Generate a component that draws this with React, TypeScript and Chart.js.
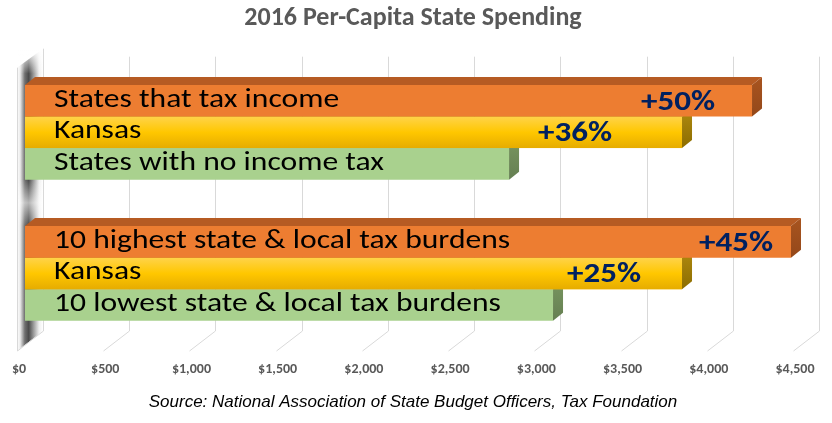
import React, { useEffect, useRef } from 'react';
import { Chart, registerables } from 'chart.js';

Chart.register(...registerables);

// ---- data ----
const groups = ['Income tax', 'Tax burden'];
const highValues = [4216, 4442];
const kansasValues = [3810, 3810];
const lowValues = [2807, 3062];
const highNames = ['States that tax income', '10 highest state & local tax burdens'];
const kansasNames = ['Kansas', 'Kansas'];
const lowNames = ['States with no income tax', '10 lowest state & local tax burdens'];
const highPct = ['+50%', '+45%'];
const kansasPct = ['+36%', '+25%'];
const lowPct = ['', ''];
const xMin = 0;
const xMax = 4500;
const xStep = 500;
const titleText = '2016 Per-Capita State Spending';
const sourceText = 'Source: National Association of State Budget Officers, Tax Foundation';

const FONT = 'Carlito, Calibri, Lato, "Open Sans", sans-serif';
const TICK_SIZE = 14;
const TICK_PAD = 17;

const bar3d = {
  id: 'bar3d',
  beforeDatasetsDraw(chart: any) {
    const { ctx, chartArea: ca, scales } = chart;
    const x = scales.x;
    const o = chart.options.plugins.bar3d;
    ctx.save();
    // left wall
    const x0 = x.getPixelForValue(xMin);
    const fx = x0 + o.frontDx;
    const bx = x0 + o.backDx;
    ctx.beginPath();
    ctx.moveTo(fx, ca.top + o.wallFrontTop);
    ctx.lineTo(bx, ca.top + o.wallBackTop);
    ctx.lineTo(bx, ca.bottom + o.wallBottom);
    ctx.lineTo(fx, ca.bottom + o.floorFront);
    ctx.closePath();
    const g = ctx.createLinearGradient(fx, 0, bx, 0);
    g.addColorStop(0, '#ffffff');
    g.addColorStop(0.12, '#ececec');
    g.addColorStop(0.3, '#707070');
    g.addColorStop(0.45, '#4a4a4a');
    g.addColorStop(0.65, '#a0a0a0');
    g.addColorStop(0.85, '#f0f0f0');
    g.addColorStop(1, '#ffffff');
    ctx.fillStyle = g;
    ctx.fill();
    // fade top of wall
    const fade = ctx.createLinearGradient(0, ca.top + o.wallBackTop, 0, ca.top + o.wallFrontTop + 6);
    fade.addColorStop(0, 'rgba(255,255,255,1)');
    fade.addColorStop(1, 'rgba(255,255,255,0)');
    ctx.fillStyle = fade;
    ctx.fillRect(fx, ca.top + o.wallBackTop - 2, bx - fx, o.wallFrontTop - o.wallBackTop + 8);
    // lighter reflection in the middle of the gaps between groups
    const first = chart.getDatasetMeta(0).data;
    const last = chart.getDatasetMeta(chart.data.datasets.length - 1).data;
    for (let i = 0; i < first.length - 1; i++) {
      const gapTop = last[i].y + last[i].height / 2;
      const gapBot = first[i + 1].y - first[i + 1].height / 2;
      const lg = ctx.createLinearGradient(0, gapTop, 0, gapBot);
      lg.addColorStop(0, 'rgba(255,255,255,0)');
      lg.addColorStop(0.5, 'rgba(255,255,255,0.6)');
      lg.addColorStop(1, 'rgba(255,255,255,0)');
      ctx.fillStyle = lg;
      ctx.fillRect(fx, gapTop, bx - fx, gapBot - gapTop);
    }
    // wall edge line
    ctx.strokeStyle = '#D9D9D9';
    ctx.lineWidth = 1;
    ctx.beginPath();
    ctx.moveTo(Math.round(fx) + 0.5, ca.top + o.wallFrontTop);
    ctx.lineTo(Math.round(fx) + 0.5, ca.bottom + o.floorFront);
    ctx.stroke();
    // back wall grid + floor lines
    x.ticks.forEach((t: any) => {
      const px = Math.round(x.getPixelForValue(t.value)) + 0.5;
      ctx.beginPath();
      ctx.moveTo(px + o.backDx, ca.top + (t.value === xMin ? o.wallBackTop : o.gridTop));
      ctx.lineTo(px + o.backDx, ca.bottom + o.wallBottom);
      ctx.lineTo(px + o.frontDx, ca.bottom + o.floorFront);
      ctx.stroke();
    });
    ctx.restore();
  },
  afterDatasetDraw(chart: any, args: any) {
    const { ctx } = chart;
    const o = chart.options.plugins.bar3d;
    const ds = chart.data.datasets[args.index];
    const dx = o.depthX;
    const dy = o.depthY;
    ctx.save();
    args.meta.data.forEach((el: any, i: number) => {
      const p = el.getProps(['x', 'y', 'base', 'height'], true);
      const top = p.y - p.height / 2;
      const bot = p.y + p.height / 2;
      const x0 = p.base;
      const x1 = p.x;
      if (ds.gradientStops) {
        const g = ctx.createLinearGradient(0, top, 0, bot);
        ds.gradientStops.forEach((s: [number, string]) => g.addColorStop(s[0], s[1]));
        ctx.fillStyle = g;
        ctx.fillRect(x0, top, x1 - x0, bot - top);
      }
      // right face
      const sg = ctx.createLinearGradient(0, top - dy, 0, bot);
      sg.addColorStop(0, ds.sideColors[0]);
      sg.addColorStop(1, ds.sideColors[1]);
      ctx.fillStyle = sg;
      ctx.beginPath();
      ctx.moveTo(x1, top);
      ctx.lineTo(x1 + dx, top - dy);
      ctx.lineTo(x1 + dx, bot - dy);
      ctx.lineTo(x1, bot);
      ctx.closePath();
      ctx.fill();
      // top face
      ctx.fillStyle = ds.topColor;
      ctx.beginPath();
      ctx.moveTo(x0, top);
      ctx.lineTo(x0 + dx, top - dy);
      ctx.lineTo(x1 + dx, top - dy);
      ctx.lineTo(x1, top);
      ctx.closePath();
      ctx.fill();
      // category text
      ctx.save();
      ctx.fillStyle = '#000000';
      ctx.font = `${o.nameSize}px ${FONT}`;
      ctx.textAlign = 'left';
      ctx.textBaseline = 'alphabetic';
      ctx.translate(x0 + o.namePad, p.y + o.nameBaseline);
      ctx.scale(o.textStretch, 1);
      ctx.fillText(ds.names[i], 0, 0);
      ctx.restore();
      // percentage text
      if (ds.pct[i]) {
        ctx.save();
        ctx.font = `bold ${o.pctSize}px ${FONT}`;
        ctx.fillStyle = '#002060';
        ctx.textAlign = 'right';
        ctx.textBaseline = 'alphabetic';
        ctx.translate(x1 - ds.pctInset[i], p.y + o.pctBaseline);
        ctx.scale(o.pctStretch, 1);
        ctx.fillText(ds.pct[i], 0, 0);
        ctx.restore();
      }
    });
    ctx.restore();
  },
};

export default function App() {
  const ref = useRef<HTMLCanvasElement>(null);
  useEffect(() => {
    if (!ref.current) return;
    const chart = new Chart(ref.current, {
      type: 'bar',
      data: {
        labels: groups,
        datasets: [
          {
            label: 'High',
            data: highValues,
            backgroundColor: '#ED7D31',
            names: highNames,
            pct: highPct,
            pctInset: [37, 18],
            topColor: '#B65B23',
            sideColors: ['#A8541F', '#94481A'],
          },
          {
            label: 'Kansas',
            data: kansasValues,
            backgroundColor: '#FFC000',
            gradientStops: [
              [0, '#FFD34A'],
              [0.5, '#FFC700'],
              [1, '#E6AC00'],
            ],
            names: kansasNames,
            pct: kansasPct,
            pctInset: [70, 41],
            topColor: '#BF9000',
            sideColors: ['#B08A10', '#8C6D00'],
          },
          {
            label: 'Low',
            data: lowValues,
            backgroundColor: '#A9D18E',
            names: lowNames,
            pct: lowPct,
            pctInset: [0, 0],
            topColor: '#7F9D6B',
            sideColors: ['#78955F', '#657F52'],
          },
        ] as any,
      },
      options: {
        indexAxis: 'y',
        responsive: false,
        animation: false,
        devicePixelRatio: 1,
        layout: { padding: { left: 25, right: 31, top: 0, bottom: 0 } },
        datasets: { bar: { barPercentage: 1, categoryPercentage: 0.671, borderWidth: 0 } },
        scales: {
          x: {
            min: xMin,
            max: xMax,
            grid: { display: false, drawTicks: false },
            border: { display: false },
            afterFit: (scale: any) => {
              scale.height = TICK_PAD + TICK_SIZE * 1.2;
              scale.paddingLeft = 0;
              scale.paddingRight = 0;
            },
            ticks: {
              stepSize: xStep,
              padding: TICK_PAD,
              labelOffset: -6,
              maxRotation: 0,
              minRotation: 0,
              autoSkip: false,
              color: '#595959',
              font: { family: FONT, size: TICK_SIZE, weight: 'bold' },
              callback: (v: any) => '$' + Number(v).toLocaleString('en-US'),
            },
          },
          y: { display: false, grid: { display: false } },
        },
        plugins: {
          legend: { display: false },
          tooltip: { enabled: false },
          title: {
            display: true,
            text: titleText,
            color: '#595959',
            font: { family: FONT, size: 26, weight: 'bold' },
            padding: { top: 3, bottom: 27.5 },
          },
          subtitle: {
            display: true,
            position: 'bottom',
            text: sourceText,
            color: '#000000',
            font: { family: '"Liberation Sans", Arial, sans-serif', size: 17, style: 'italic' },
            padding: { top: 14, bottom: 10.8 },
          },
          bar3d: {
            depthX: 10,
            depthY: 8,
            backDx: 18,
            frontDx: -8,
            gridTop: -5,
            wallBackTop: -13,
            wallFrontTop: 6,
            wallBottom: -13,
            floorFront: 7,
            nameSize: 26,
            namePad: 29,
            nameBaseline: 6,
            pctSize: 28,
            pctBaseline: 9,
            textStretch: 1.215,
            pctStretch: 1.18,
          },
        } as any,
      },
      plugins: [bar3d],
    });
    return () => chart.destroy();
  }, []);
  return (
    <div style={{ position: 'absolute', left: 0, top: 0, width: 832, height: 423, background: '#ffffff' }}>
      <canvas ref={ref} width={832} height={423} />
    </div>
  );
}
